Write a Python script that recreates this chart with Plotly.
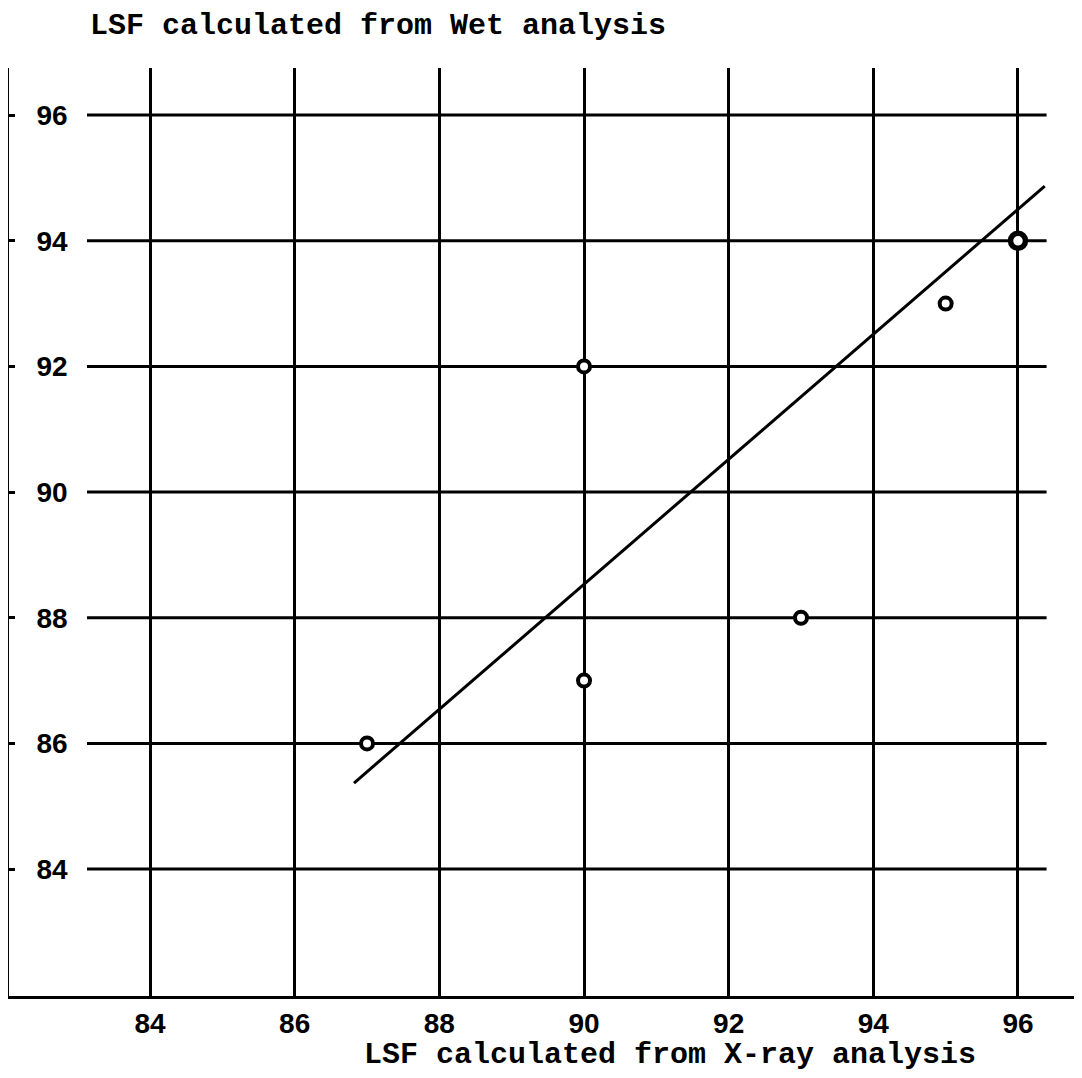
import plotly.graph_objects as go

# Data
x_ray = [87, 90, 90, 93, 95, 96]
wet = [86, 92, 87, 88, 93, 94]
fit_x = [86.82, 96.37]
fit_y = [85.37, 94.87]
tick_vals = [84, 86, 88, 90, 92, 94, 96]
tick_text = ["84", "86", "88", "90", "92", "94", "96"]

title_text = "LSF calculated from Wet analysis"
xtitle_text = "LSF calculated from X-ray analysis"

# Style
mono = "Liberation Mono, Courier New, monospace"
sans = "Liberation Sans, Arial, sans-serif"
marker_line_widths = [4, 4, 4, 4, 4, 5.5]
marker_sizes = [12, 12, 12, 12, 12, 15]

fig = go.Figure()

# Horizontal grid lines (partial width, as in original)
for v in tick_vals:
    fig.add_shape(type="line", xref="paper", yref="y", x0=0.0727, x1=0.967,
                  y0=v, y1=v, line=dict(color="black", width=3), layer="below")

fig.add_trace(go.Scatter(x=fit_x, y=fit_y, mode="lines",
                         line=dict(color="black", width=3), showlegend=False,
                         hoverinfo="skip"))
fig.add_trace(go.Scatter(x=x_ray, y=wet, mode="markers",
                         marker=dict(symbol="circle", size=marker_sizes, color="white",
                                     opacity=1,
                                     line=dict(color="black", width=marker_line_widths)),
                         showlegend=False))

fig.update_layout(
    width=1074, height=1070,
    margin=dict(l=1, r=0, t=60, b=82),
    paper_bgcolor="white", plot_bgcolor="white",
    xaxis=dict(range=[82.05, 96.885], tickvals=tick_vals, ticktext=tick_text,
               showgrid=True, gridcolor="black", gridwidth=3,
               showline=True, linecolor="black", linewidth=3,
               ticks="", zeroline=False,
               tickfont=dict(family=sans, size=28, color="black", weight="bold")),
    yaxis=dict(range=[81.98, 96.75], tickvals=tick_vals, ticktext=tick_text,
               showgrid=False, showline=True, linecolor="black", linewidth=3,
               ticks="inside", ticklen=6, tickwidth=3, tickcolor="black",
               ticklabelposition="inside", ticklabelstandoff=24, zeroline=False,
               tickfont=dict(family=sans, size=28, color="black", weight="bold")),
    annotations=[
        dict(text=title_text, xref="paper", yref="paper", x=(89 - 9) / 1073, y=1 + 60 / 928,
             xanchor="left", yanchor="top", showarrow=False, borderpad=0,
             font=dict(family=mono, size=30, color="black", weight="bold")),
        dict(text=xtitle_text, xref="paper", yref="paper", x=(670 - 9) / 1073, y=-(1055 - 996) / 928,
             xanchor="center", yanchor="middle", showarrow=False, borderpad=0,
             font=dict(family=mono, size=30, color="black", weight="bold")),
    ],
)

fig.write_html("out.html")
